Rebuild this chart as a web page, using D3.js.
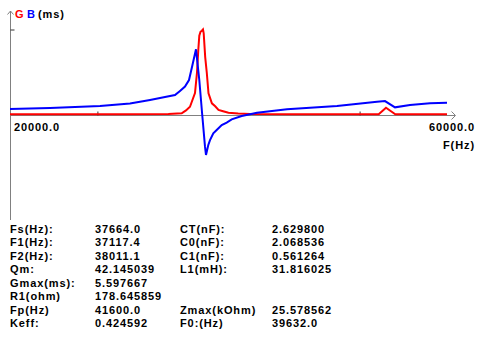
<!DOCTYPE html>
<html>
<head>
<meta charset="utf-8">
<script src="https://cdn.jsdelivr.net/npm/d3@7"></script>
<style>
  body { margin: 0; background: #fff; }
  svg { display: block; }
  text {
    font-family: "Liberation Sans", Arial, sans-serif;
    font-weight: bold;
    font-size: 11px;
    letter-spacing: 0.9px;
  }
</style>
</head>
<body>
<svg width="477" height="337"></svg>
<script>
// conductance G (ms) vs frequency (Hz)
var conductance = [
  [20000, 0.08], [30000, 0.08], [34500, 0.09], [35716, 0.14], [36109, 0.33],
  [36475, 0.57], [36933, 1.46], [37117, 2.8], [37235, 4.26], [37327, 5.2],
  [37437, 5.45], [37560, 5.52], [37664, 5.6], [37730, 5.35], [37867, 3.8],
  [38011, 2.8], [38169, 1.45], [38480, 0.79], [38782, 0.6], [39084, 0.36],
  [39423, 0.29], [39999, 0.18], [40887, 0.13], [41968, 0.1], [46000, 0.08],
  [53748, 0.08], [54416, 0.51], [55268, 0.08], [60000, 0.08]
];

// susceptance B (ms)
var susceptance = [
  [20000, 0.42], [23661, 0.49], [28238, 0.62], [30984, 0.78], [32815, 1.01],
  [34188, 1.2], [35103, 1.33], [35560, 1.6], [36018, 1.88], [36384, 2.31],
  [36659, 3.16], [37025, 4.31], [37327, 2.31], [37601, 0], [37849, -2.03],
  [37940, -2.57], [38151, -1.92], [38307, -1.6], [38609, -1.16], [38920, -0.94],
  [39378, -0.62], [39835, -0.46], [40293, -0.25], [41208, -0.03], [41968, 0.08],
  [42609, 0.18], [45355, 0.4], [49931, 0.62], [53593, 0.9], [54325, 0.94],
  [55240, 0.53], [56613, 0.68], [58444, 0.79], [60000, 0.83]
];

var freqRange = [20000, 60000];
var gMax = 5.597667;
var xTicks = [28000, 52000];

// parameter table, two label/value columns
var leftLabels = ["Fs(Hz):", "F1(Hz):", "F2(Hz):", "Qm:", "Gmax(ms):", "R1(ohm)", "Fp(Hz)", "Keff:"];
var leftValues = ["37664.0", "37117.4", "38011.1", "42.145039", "5.597667", "178.645859", "41600.0", "0.424592"];
var rightLabels = ["CT(nF):", "C0(nF):", "C1(nF):", "L1(mH):", "", "", "Zmax(kOhm)", "F0:(Hz)"];
var rightValues = ["2.629800", "2.068536", "0.561264", "31.816025", "", "", "25.578562", "39632.0"];

var svg = d3.select("svg");

var xScale = d3.scaleLinear().domain(freqRange).range([10, 447]);
var yScale = d3.scaleLinear().domain([0, gMax]).range([115.5, 29.5]);

var axisColor = "#808080";

// X AXIS line + arrow
svg.append("line")
  .attr("x1", 10).attr("x2", 455)
  .attr("y1", yScale(0)).attr("y2", yScale(0))
  .attr("stroke", axisColor);
svg.append("path")
  .attr("d", "M451.5,111.5 L455.5,115.5 L451.5,119.5")
  .attr("fill", "none")
  .attr("stroke", axisColor);

// Y AXIS line + arrow
svg.append("line")
  .attr("x1", 10.5).attr("x2", 10.5)
  .attr("y1", 11).attr("y2", 220)
  .attr("stroke", axisColor);
svg.append("path")
  .attr("d", "M7.5,14.5 L10.5,11 L13.5,14.5")
  .attr("fill", "none")
  .attr("stroke", axisColor);

// small ticks
var xAxis = d3.axisTop(xScale).tickValues(xTicks).tickSize(4).tickFormat("");
svg.append("g")
  .attr("transform", `translate(0, ${yScale(0)})`)
  .call(xAxis)
  .call((g) => g.select(".domain").remove())
  .selectAll("line").attr("stroke", "#333");

var yAxis = d3.axisRight(yScale).tickValues([gMax]).tickSize(4).tickFormat("");
svg.append("g")
  .attr("transform", "translate(10.5, 0)")
  .call(yAxis)
  .call((g) => g.select(".domain").remove())
  .selectAll("line").attr("stroke", "#333");

// CURVES
var line = d3.line()
  .x((d) => xScale(d[0]))
  .y((d) => yScale(d[1]));

svg.append("path")
  .datum(conductance)
  .attr("d", line)
  .attr("fill", "none")
  .attr("stroke", "#ff0000")
  .attr("stroke-width", 2);

svg.append("path")
  .datum(susceptance)
  .attr("d", line)
  .attr("fill", "none")
  .attr("stroke", "#0000ff")
  .attr("stroke-width", 2);

// AXIS LABELS
var fmt = d3.format(".1f");
svg.append("text")
  .attr("x", 14).attr("y", 131)
  .text(fmt(freqRange[0]));
svg.append("text")
  .attr("x", 475).attr("y", 131)
  .style("text-anchor", "end")
  .text(fmt(freqRange[1]));
svg.append("text")
  .attr("x", 475).attr("y", 149)
  .style("text-anchor", "end")
  .text("F(Hz)");

// TITLE
svg.append("text").attr("x", 15).attr("y", 18).attr("fill", "#ff0000").text("G");
svg.append("text").attr("x", 27).attr("y", 18).attr("fill", "#0000ff").text("B");
svg.append("text").attr("x", 38).attr("y", 18).attr("fill", "#000").text("(ms)");

// PARAMETER TABLE
var rowY = (i) => 232.5 + i * 13.5;
var columns = [
  { x: 10, items: leftLabels },
  { x: 95, items: leftValues },
  { x: 180, items: rightLabels },
  { x: 272, items: rightValues }
];
columns.forEach((col) => {
  svg.append("g")
    .selectAll("text")
    .data(col.items)
    .enter()
    .append("text")
    .attr("x", col.x)
    .attr("y", (d, i) => rowY(i))
    .text((d) => d);
});
</script>
</body>
</html>
